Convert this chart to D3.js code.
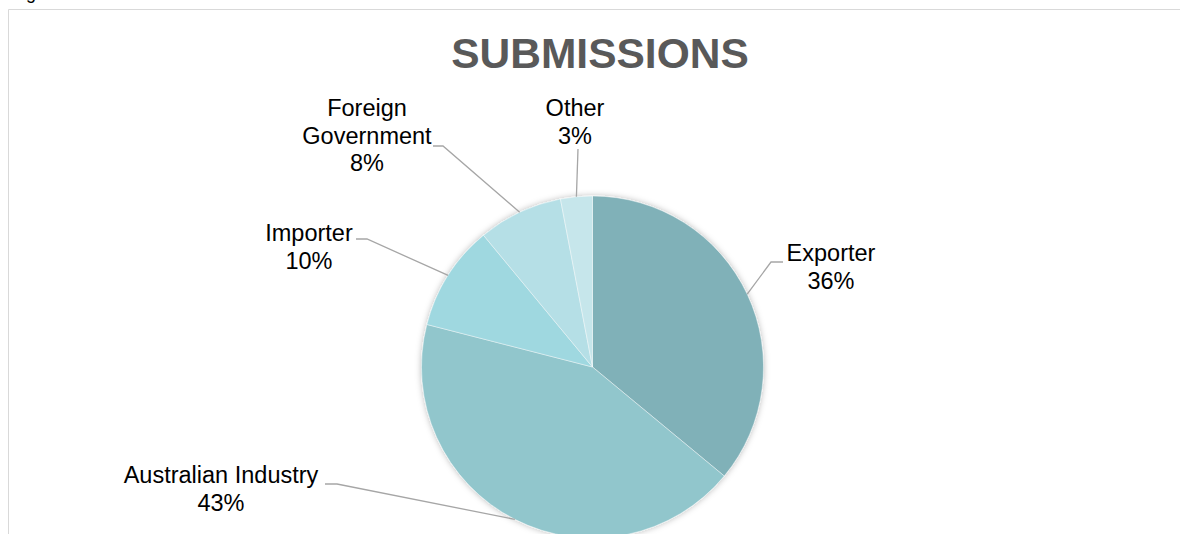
<!DOCTYPE html>
<html>
<head>
<meta charset="utf-8">
<script src="https://cdn.jsdelivr.net/npm/d3@7"></script>
<style>
  html, body { margin: 0; padding: 0; background: #fff; }
  svg { display: block; }
</style>
</head>
<body>
<svg id="chart" width="1180" height="534"></svg>
<script>
// Submission sources (share of total, %)
const categories = ["Exporter", "Australian Industry", "Importer", "Foreign Government", "Other"];
const shares = [36, 43, 10, 8, 3];
const labelLines = [["Exporter"], ["Australian Industry"], ["Importer"], ["Foreign", "Government"], ["Other"]];
const sliceColors = ["#80b1b8", "#91c6cc", "#9fd8e0", "#b5dfe6", "#c6e6eb"];

// Label placement: text anchor point, elbow of the leader line and its end next to the text
const labelLayout = [
  { x: 831, y: 261, elbow: [771, 262], end: [783, 262] },
  { x: 221, y: 483, elbow: [337, 484], end: [325, 484] },
  { x: 309, y: 241, elbow: [367, 239], end: [356, 239] },
  { x: 367, y: 116, elbow: [443, 146], end: [433, 146] },
  { x: 575, y: 116, elbow: [578, 149], end: [578, 149] }
];

const svg = d3.select("#chart");
const W = 1180, H = 534;

// Frame of the chart area
svg.append("path")
  .attr("d", `M8.5,${H} L8.5,9.5 L${W},9.5`)
  .attr("fill", "none")
  .attr("stroke", "#d9d9d9")
  .attr("stroke-width", 1);

// Caption fragment above the frame
svg.append("text")
  .attr("x", 26).attr("y", -1.5)
  .attr("font-family", "Liberation Sans, Arial, sans-serif")
  .attr("font-size", 18)
  .attr("fill", "#000")
  .text("g");

// Title
svg.append("text")
  .attr("x", 600).attr("y", 68)
  .attr("text-anchor", "middle")
  .attr("font-family", "Liberation Sans, Arial, sans-serif")
  .attr("font-weight", "bold")
  .attr("font-size", 42.5)
  .attr("fill", "#595959")
  .text("SUBMISSIONS");

const defs = svg.append("defs");
const shadow = defs.append("filter").attr("id", "pieShadow")
  .attr("x", "-20%").attr("y", "-20%").attr("width", "140%").attr("height", "140%");
shadow.append("feDropShadow")
  .attr("dx", 0).attr("dy", 0)
  .attr("stdDeviation", 3)
  .attr("flood-color", "#000")
  .attr("flood-opacity", 0.28);

const cx = 592.5, cy = 367, R = 171;

const pie = d3.pie().sort(null).value(d => d)
  .startAngle(0).endAngle(2 * Math.PI);
const arcs = pie(shares);
const arc = d3.arc().innerRadius(0).outerRadius(R);

const g = svg.append("g").attr("transform", `translate(${cx},${cy})`);

const pieGroup = g.append("g").attr("filter", "url(#pieShadow)");
pieGroup.selectAll("path.slice")
  .data(arcs)
  .join("path")
  .attr("class", "slice")
  .attr("d", arc)
  .attr("fill", (d, i) => sliceColors[i])
  .attr("stroke", "#ffffff")
  .attr("stroke-width", 0.6)
  .attr("stroke-opacity", 0.7);

// Leader lines: from the slice edge at its mid angle, through the elbow, to the label
const leaders = svg.append("g");
arcs.forEach((d, i) => {
  const a = (d.startAngle + d.endAngle) / 2;
  const px = cx + R * Math.sin(a);
  const py = cy - R * Math.cos(a);
  const L = labelLayout[i];
  leaders.append("polyline")
    .attr("points", `${px},${py} ${L.elbow[0]},${L.elbow[1]} ${L.end[0]},${L.end[1]}`)
    .attr("fill", "none")
    .attr("stroke", "#a6a6a6")
    .attr("stroke-width", 1.3);
});

// Labels: category name lines followed by the percentage
const labels = svg.append("g")
  .attr("font-family", "Liberation Sans, Arial, sans-serif")
  .attr("font-size", 23.5)
  .attr("fill", "#000")
  .attr("text-anchor", "middle");
arcs.forEach((d, i) => {
  const L = labelLayout[i];
  const lines = labelLines[i].concat([d3.format(".0f")(shares[i]) + "%"]);
  const t = labels.append("text").attr("x", L.x).attr("y", L.y);
  lines.forEach((s, k) => {
    t.append("tspan").attr("x", L.x).attr("dy", k === 0 ? 0 : 27.6).text(s);
  });
});
</script>
</body>
</html>
